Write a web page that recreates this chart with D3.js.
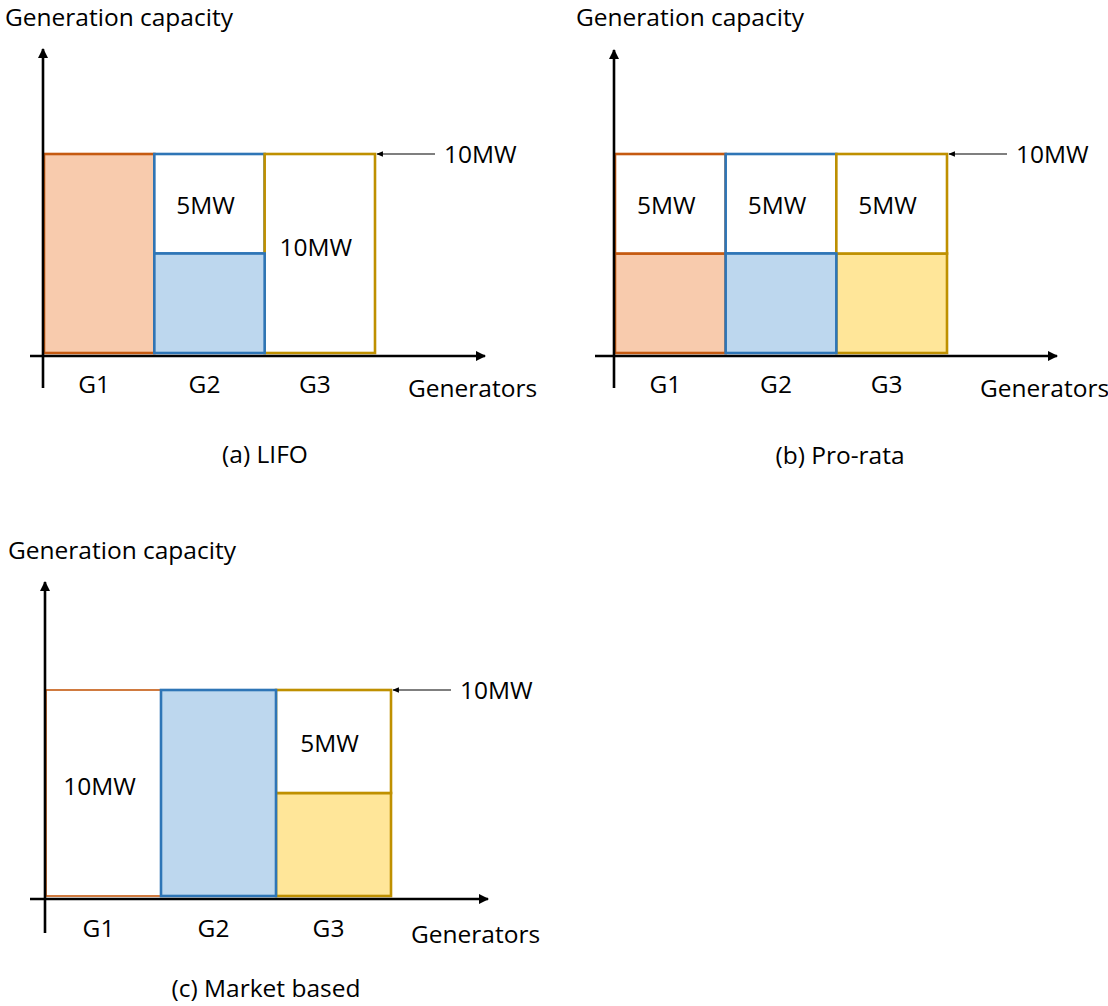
<html>
<head>
    <style>
        body {
            margin: 0;
            background-color: white;
        }
        text {
            font-family: "Open Sans", Lato, sans-serif;
            font-size: 24.5px;
            fill: #000;
        }
    </style>
    <script src="https://cdn.jsdelivr.net/npm/d3@7"></script>
</head>

<body>
    <svg id="Chart"></svg>
    <script>
    // values
    const generators = ["G1", "G2", "G3"]
    const capacity = [10, 10, 10]          // MW, each generator
    const dispatchedLIFO = [10, 5, 0]      // MW that stays on (coloured part)
    const dispatchedProRata = [5, 5, 5]
    const dispatchedMarket = [0, 10, 5]
    const captions = ["(a) LIFO", "(b) Pro-rata", "(c) Market based"]
    const capacityLabel = "10MW"
    const yTitle = "Generation capacity"
    const xTitle = "Generators"

    const strokeColors = ["#C55A11", "#2E75B6", "#BF9000"]
    const fillColors = ["#F8CBAD", "#BDD7EE", "#FFE699"]

    // where each little chart sits in the page
    let panels = [
        { dispatched: dispatchedLIFO, caption: captions[0], x0: 44, x1: 375, base: 353, top: 154,
          axisStart: 30, axisEnd: 485, yTip: 49, yBottom: 388, titleX: 5, titleY: 26,
          genX: 408, genY: 397, labelY: 393, capX: 265, capY: 463, g1Stroke: 2.6 },
        { dispatched: dispatchedProRata, caption: captions[1], x0: 615, x1: 947, base: 353, top: 154,
          axisStart: 595, axisEnd: 1057, yTip: 50, yBottom: 388, titleX: 576, titleY: 26,
          genX: 980, genY: 397, labelY: 393, capX: 840, capY: 464, g1Stroke: 2.6 },
        { dispatched: dispatchedMarket, caption: captions[2], x0: 46, x1: 391, base: 896, top: 690,
          axisStart: 30, axisEnd: 488, yTip: 582, yBottom: 933, titleX: 8, titleY: 559,
          genX: 411, genY: 943, labelY: 937, capX: 266, capY: 997, g1Stroke: 1.6 }
    ]

    let svg = d3.select("#Chart")
        .attr("width", 1108)
        .attr("height", 1006)

    let defs = svg.append("defs")
    defs.append("marker")
        .attr("id", "bigArrow")
        .attr("viewBox", "0 0 10 10")
        .attr("refX", 9).attr("refY", 5)
        .attr("markerWidth", 4).attr("markerHeight", 4)
        .attr("markerUnits", "strokeWidth")
        .attr("orient", "auto")
        .append("path").attr("d", "M0,0 L10,5 L0,10 z").attr("fill", "#000")
    defs.append("marker")
        .attr("id", "smallArrow")
        .attr("viewBox", "0 0 10 10")
        .attr("refX", 9).attr("refY", 5)
        .attr("markerWidth", 6).attr("markerHeight", 6)
        .attr("markerUnits", "strokeWidth")
        .attr("orient", "auto")
        .append("path").attr("d", "M0,1 L10,5 L0,9 z").attr("fill", "#000")

    function drawPanel(p) {
        let xScale = d3.scaleBand()
            .domain(generators)
            .range([p.x0, p.x1])
            .padding(0)
        let yScale = d3.scaleLinear()
            .domain([0, 10])
            .range([p.base, p.top])

        let g = svg.append("g")

        let rows = generators.map((name, i) => ({
            name: name,
            i: i,
            cap: capacity[i],
            disp: p.dispatched[i],
            curt: capacity[i] - p.dispatched[i]
        }))

        // coloured part = what is still generating
        g.selectAll(".disp").data(rows.filter(d => d.disp > 0)).enter().append("rect")
            .attr("class", "disp")
            .attr("x", d => xScale(d.name))
            .attr("width", xScale.bandwidth())
            .attr("y", d => yScale(d.disp))
            .attr("height", d => yScale(0) - yScale(d.disp))
            .attr("fill", d => fillColors[d.i])
            .attr("stroke", d => strokeColors[d.i])
            .attr("stroke-width", 2.6)

        // white part = curtailed
        g.selectAll(".curt").data(rows.filter(d => d.curt > 0)).enter().append("rect")
            .attr("class", "curt")
            .attr("x", d => xScale(d.name))
            .attr("width", xScale.bandwidth())
            .attr("y", d => yScale(d.cap))
            .attr("height", d => yScale(d.disp) - yScale(d.cap))
            .attr("fill", "white")
            .attr("stroke", d => strokeColors[d.i])
            .attr("stroke-width", d => d.i == 0 ? p.g1Stroke : 2.6)

        // blue box in market based sits on top of the orange edge
        g.selectAll(".disp").filter(d => d.i == 1).raise()

        g.selectAll(".curtLabel").data(rows.filter(d => d.curt > 0)).enter().append("text")
            .attr("x", d => xScale(d.name) + xScale.bandwidth() / 2 - 4)
            .attr("y", d => (yScale(d.cap) + yScale(d.disp)) / 2 + (d.curt == d.cap ? 2 : 10))
            .attr("text-anchor", "middle")
            .text(d => d.curt + "MW")

        // axes
        g.append("line")
            .attr("x1", p.x0 - 1).attr("x2", p.x0 - 1)
            .attr("y1", p.yBottom).attr("y2", p.yTip)
            .attr("stroke", "#000").attr("stroke-width", 2.6)
            .attr("marker-end", "url(#bigArrow)")
        g.append("line")
            .attr("x1", p.axisStart).attr("x2", p.axisEnd)
            .attr("y1", yScale(0) + 3).attr("y2", yScale(0) + 3)
            .attr("stroke", "#000").attr("stroke-width", 2.6)
            .attr("marker-end", "url(#bigArrow)")

        g.selectAll(".gen").data(generators).enter().append("text")
            .attr("x", d => xScale(d) + xScale.bandwidth() / 2 - 5)
            .attr("y", p.labelY)
            .attr("text-anchor", "middle")
            .text(d => d)

        g.append("text").attr("x", p.titleX).attr("y", p.titleY).text(yTitle)
        g.append("text").attr("x", p.genX).attr("y", p.genY).text(xTitle)
        g.append("text").attr("x", p.capX).attr("y", p.capY)
            .attr("text-anchor", "middle").text(p.caption)

        // capacity marker
        let capY = yScale(d3.max(capacity))
        g.append("line")
            .attr("x1", p.x1 + 60).attr("x2", p.x1 + 2)
            .attr("y1", capY).attr("y2", capY)
            .attr("stroke", "#000").attr("stroke-width", 1.1)
            .attr("marker-end", "url(#smallArrow)")
        g.append("text")
            .attr("x", p.x1 + 69).attr("y", capY + 9)
            .text(capacityLabel)
    }

    panels.forEach(drawPanel)
    </script>
</body>
</html>
